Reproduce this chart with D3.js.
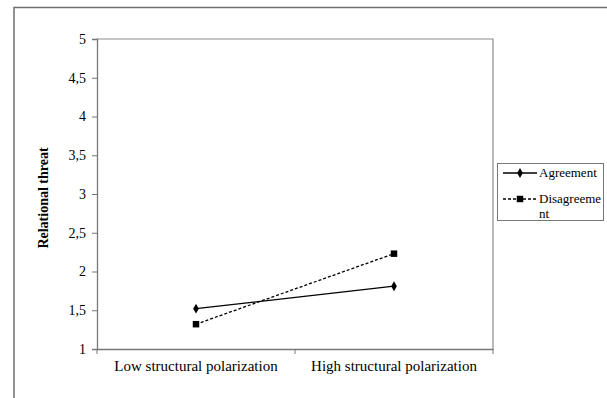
<!DOCTYPE html>
<html>
<head>
<meta charset="utf-8">
<script src="https://cdn.jsdelivr.net/npm/d3@7"></script>
<style>
  body { margin: 0; background: #fff; }
  svg text { font-family: "Liberation Serif", "Times New Roman", serif; fill: #000; }
</style>
</head>
<body>
<div id="chart"></div>
<script>
const categories = ["Low structural polarization", "High structural polarization"];
const agreement = [1.52, 1.81];
const disagreement = [1.32, 2.23];
const yTicks = [1, 1.5, 2, 2.5, 3, 3.5, 4, 4.5, 5];

const w = 607, h = 398;
const pLeft = 97, pRight = 493, pTop = 39, pBottom = 349;
const serif = "'Liberation Serif', 'Times New Roman', serif";

const svg = d3.select("#chart").append("svg")
    .attr("width", w)
    .attr("height", h)
    .attr("font-family", serif);

// outer frame (only top + left visible)
svg.append("path")
    .attr("d", "M14,398V7.5H607")
    .attr("fill", "none")
    .attr("stroke", "#6f6f6f")
    .attr("stroke-width", 1.5);

const xScale = d3.scaleBand()
    .domain(categories)
    .range([pLeft, pRight]);

const yScale = d3.scaleLinear()
    .domain([1, 5])
    .range([pBottom, pTop]);

// plot border top/right
svg.append("path")
    .attr("d", `M${pLeft},${pTop}H${pRight}V${pBottom}`)
    .attr("fill", "none")
    .attr("stroke", "#8c8c8c")
    .attr("stroke-width", 1.2);

const yAxis = d3.axisLeft(yScale)
    .tickValues(yTicks)
    .tickSize(5)
    .tickFormat(d => String(d).replace(".", ","));

const gy = svg.append("g")
    .attr("transform", `translate(${pLeft},0)`)
    .call(yAxis)
    .attr("font-family", serif)
    .attr("font-size", 14);
gy.select(".domain").attr("stroke", "#777").attr("stroke-width", 1.3);
gy.selectAll(".tick line").attr("stroke", "#777");
gy.selectAll(".tick text").attr("x", -11);

const xAxis = d3.axisBottom(xScale).tickSize(0).tickSizeOuter(0);
const gx = svg.append("g")
    .attr("transform", `translate(0,${pBottom})`)
    .call(xAxis)
    .attr("font-family", serif)
    .attr("font-size", 15);
gx.select(".domain").attr("stroke", "#777").attr("stroke-width", 1.3);
gx.selectAll(".tick text").attr("y", 11);

// x boundary ticks
const xb = [pLeft, (pLeft + pRight) / 2, pRight];
svg.selectAll(".xb").data(xb).enter().append("line")
    .attr("x1", d => d).attr("x2", d => d)
    .attr("y1", pBottom).attr("y2", pBottom + 5)
    .attr("stroke", "#777");

svg.append("text")
    .attr("transform", `translate(48,${(pTop + pBottom) / 2 + 4}) rotate(-90)`)
    .attr("text-anchor", "middle")
    .attr("font-size", 14)
    .attr("font-weight", "bold")
    .text("Relational threat");

const cx = i => xScale(categories[i]) + xScale.bandwidth() / 2;
const line = d3.line()
    .x((d, i) => cx(i))
    .y(d => yScale(d));

svg.append("path")
    .datum(agreement)
    .attr("d", line)
    .attr("fill", "none")
    .attr("stroke", "#000")
    .attr("stroke-width", 1.3);

svg.append("path")
    .datum(disagreement)
    .attr("d", line)
    .attr("fill", "none")
    .attr("stroke", "#000")
    .attr("stroke-width", 1.3)
    .attr("stroke-dasharray", "3,2");

const diamond = d3.symbol().type(d3.symbolDiamond).size(28);
const square = d3.symbol().type(d3.symbolSquare).size(42);

svg.selectAll(".agr").data(agreement).enter().append("path")
    .attr("d", diamond)
    .attr("transform", (d, i) => `translate(${cx(i)},${yScale(d)})`)
    .attr("fill", "#000");

svg.selectAll(".dis").data(disagreement).enter().append("path")
    .attr("d", square)
    .attr("transform", (d, i) => `translate(${cx(i)},${yScale(d)})`)
    .attr("fill", "#000");

// legend
const lg = svg.append("g").attr("font-size", 13);
lg.append("rect")
    .attr("x", 497.5).attr("y", 163.5)
    .attr("width", 106).attr("height", 57)
    .attr("fill", "none")
    .attr("stroke", "#777")
    .attr("stroke-width", 1);

lg.append("line")
    .attr("x1", 503).attr("x2", 537)
    .attr("y1", 173).attr("y2", 173)
    .attr("stroke", "#000").attr("stroke-width", 1.3);
lg.append("path").attr("d", diamond).attr("transform", "translate(520,173)");
lg.append("text").attr("x", 539).attr("y", 177).text("Agreement");

lg.append("line")
    .attr("x1", 503).attr("x2", 537)
    .attr("y1", 199).attr("y2", 199)
    .attr("stroke", "#000").attr("stroke-width", 1.3)
    .attr("stroke-dasharray", "3,2");
lg.append("path").attr("d", square).attr("transform", "translate(520,199)");
lg.append("text").attr("x", 539).attr("y", 203).text("Disagreeme");
lg.append("text").attr("x", 539).attr("y", 218).text("nt");
</script>
</body>
</html>
